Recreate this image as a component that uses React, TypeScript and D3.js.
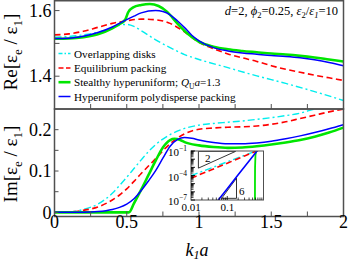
import React from 'react';
import * as d3 from 'd3';

// ---------- data ----------
const reCyanK = [0, 0.1, 0.2, 0.3, 0.4, 0.45, 0.5, 0.55, 0.6, 0.7, 0.8, 0.9, 1.0, 1.2, 1.4, 1.6, 1.8, 2.0];
const reCyan = [1.519, 1.521, 1.526, 1.534, 1.547, 1.555, 1.558, 1.552, 1.539, 1.511, 1.487, 1.466, 1.451, 1.426, 1.401, 1.378, 1.353, 1.326];
const reRedK = [0, 0.1, 0.2, 0.3, 0.4, 0.5, 0.6, 0.7, 0.8, 0.9, 1.0, 1.1, 1.2, 1.3, 1.4, 1.5, 1.6, 1.7, 1.8, 1.9, 2.0];
const reRed = [1.526, 1.529, 1.537, 1.549, 1.561, 1.569, 1.574, 1.572, 1.561, 1.535, 1.503, 1.484, 1.468, 1.456, 1.445, 1.432, 1.421, 1.412, 1.403, 1.395, 1.387];
const reGreenK = [0, 0.1, 0.2, 0.3, 0.4, 0.45, 0.49, 0.51, 0.545, 0.6, 0.66, 0.72, 0.78, 0.85, 0.92, 1.0, 1.1, 1.2, 1.3, 1.4, 1.5, 1.6, 1.7, 1.8, 1.9, 2.0];
const reGreen = [1.514, 1.515, 1.519, 1.528, 1.546, 1.559, 1.573, 1.595, 1.61, 1.617, 1.62, 1.614, 1.596, 1.561, 1.53, 1.505, 1.49, 1.482, 1.477, 1.473, 1.469, 1.466, 1.462, 1.457, 1.451, 1.445];
const reBlueK = [0, 0.1, 0.2, 0.3, 0.4, 0.475, 0.55, 0.6, 0.7, 0.75, 0.8, 0.85, 0.9, 0.95, 1.0, 1.1, 1.2, 1.3, 1.4, 1.5, 1.6, 1.7, 1.8, 1.9, 2.0];
const reBlue = [1.515, 1.516, 1.522, 1.533, 1.55, 1.567, 1.583, 1.593, 1.6, 1.597, 1.587, 1.569, 1.548, 1.525, 1.508, 1.487, 1.477, 1.471, 1.467, 1.463, 1.46, 1.456, 1.45, 1.442, 1.432];

const imCyanK = [0, 0.1, 0.15, 0.2, 0.3, 0.4, 0.45, 0.5, 0.55, 0.6, 0.65, 0.7, 0.8, 0.9, 1.0, 1.1, 1.2, 1.3, 1.4, 1.5, 1.6, 1.7, 1.8, 1.9, 2.0];
const imCyan = [0, 0.001, 0.003, 0.007, 0.02, 0.046, 0.065, 0.085, 0.106, 0.127, 0.147, 0.164, 0.188, 0.203, 0.211, 0.215, 0.218, 0.221, 0.225, 0.229, 0.234, 0.24, 0.25, 0.259, 0.268];
const imRedK = [0, 0.1, 0.2, 0.3, 0.4, 0.45, 0.5, 0.55, 0.6, 0.65, 0.7, 0.75, 0.8, 0.85, 0.9, 0.95, 1.0, 1.1, 1.2, 1.3, 1.4, 1.5, 1.6, 1.7, 1.8, 1.9, 2.0];
const imRed = [0, 0.001, 0.005, 0.013, 0.03, 0.042, 0.057, 0.075, 0.094, 0.112, 0.13, 0.149, 0.166, 0.18, 0.19, 0.197, 0.201, 0.204, 0.206, 0.207, 0.209, 0.213, 0.219, 0.227, 0.235, 0.243, 0.25];
const imGreenK = [0, 0.5, 0.515, 0.55, 0.6, 0.65, 0.7, 0.75, 0.8, 0.83, 0.87, 0.9, 1.0, 1.1, 1.2, 1.3, 1.4, 1.5, 1.6, 1.7, 1.8, 1.9, 2.0];
const imGreen = [0, 0, 0, 0.022, 0.055, 0.09, 0.125, 0.157, 0.175, 0.178, 0.175, 0.17, 0.162, 0.158, 0.156, 0.157, 0.16, 0.164, 0.169, 0.175, 0.183, 0.193, 0.205];
const imBlueK = [0, 0.2, 0.3, 0.4, 0.45, 0.5, 0.55, 0.6, 0.65, 0.7, 0.75, 0.8, 0.85, 0.9, 0.95, 1.0, 1.1, 1.2, 1.3, 1.4, 1.5, 1.6, 1.7, 1.8, 1.9, 2.0];
const imBlue = [0, 0.0005, 0.002, 0.007, 0.012, 0.02, 0.033, 0.053, 0.076, 0.101, 0.131, 0.16, 0.176, 0.181, 0.179, 0.175, 0.169, 0.166, 0.166, 0.168, 0.172, 0.178, 0.185, 0.193, 0.202, 0.212];

// inset (log-log)
const inCyanK = [0.01, 0.03, 0.1, 0.3, 0.7];
const inCyan = [9.5e-5, 6.1e-4, 4.7e-3, 0.03, 0.126];
const inRedK = [0.01, 0.03, 0.1, 0.3, 0.7];
const inRed = [4.6e-5, 3.5e-4, 3.2e-3, 0.025, 0.118];
const inBlueK = [0.05, 0.1, 0.2, 0.4, 0.7];
const inBlue = [5e-8, 2.4e-6, 1.2e-4, 5.9e-3, 0.137];
const inGreenK = [0.58, 0.582, 0.585, 0.6, 0.63];
const inGreen = [1e-9, 1e-5, 1e-3, 0.03, 0.12];
// slope triangles: [x0, x1, y0, slope]
const triangle2 = [0.016, 0.17, 8e-4, 2];
const triangle6 = [0.07, 0.18, 1.6e-7, 6];

const xTicks = [0, 0.5, 1, 1.5, 2];
const reTicks = [1.4, 1.6];
const imTicks = [0, 0.1, 0.2];
const insetYLabels = [-1, -4, -7];
const insetXLabels = ['0.01', '0.1'];

const FONT = "'Liberation Serif', 'Times New Roman', serif";
const C_CYAN = '#00eeee';
const C_RED = '#ff0000';
const C_GREEN = '#00e600';
const C_BLUE = '#0000ff';
const AX = '#505050';

export default function App() {
  const x = d3.scaleLinear().domain([0, 2]).range([54.5, 343.5]);
  const yRe = d3.scaleLinear().domain([1.3, 1.63]).range([109, 0.75]);
  const yIm = d3.scaleLinear().domain([-0.01, 0.25]).range([216.5, 109]);
  const xi = d3.scaleLog().domain([0.01, 1]).range([191, 263.5]);
  const yi = d3.scaleLog().domain([1e-7, 1e-1]).range([200, 151]);

  const mk = (K: number[], V: number[], sx: any, sy: any, curve: any) =>
    d3.line<number>().x((_, i) => sx(K[i])).y((v) => sy(v)).curve(curve)(V) || '';

  const mono = d3.curveMonotoneX;
  const lin = d3.curveLinear;

  const styles = {
    cyan: { stroke: C_CYAN, strokeWidth: 1.4, strokeDasharray: '7,3,2,3', fill: 'none' },
    red: { stroke: C_RED, strokeWidth: 1.6, strokeDasharray: '6,3.5', fill: 'none' },
    green: { stroke: C_GREEN, strokeWidth: 2.6, fill: 'none' },
    blue: { stroke: C_BLUE, strokeWidth: 1.5, fill: 'none' },
  } as const;

  const [x0, x1] = x.range();
  const reTop = yRe.range()[1];
  const mid = yRe.range()[0];
  const imBot = yIm.range()[0];

  const minorX = d3.range(0.25, 2, 0.25);
  const reTickAll = [1.4, 1.5, 1.6];
  const imTickAll = [0, 0.05, 0.1, 0.15, 0.2];

  const insetXMinor: number[] = [];
  [0.01, 0.1].forEach((d) => { for (let m = 2; m <= 9; m++) insetXMinor.push(d * m); });
  const insetYMinor: number[] = [];
  for (let e = -7; e < -1; e++) for (let m = 2; m <= 9; m++) insetYMinor.push(m * Math.pow(10, e));
  const insetYMajor = d3.range(-7, 0).map((e) => Math.pow(10, e));

  const tri = (t: number[], corner: 'tl' | 'br') => {
    const [a, b, y0, s] = t;
    const y1 = y0 * Math.pow(b / a, s);
    const pts = corner === 'tl'
      ? [[a, y0], [a, y1], [b, y1], [a, y0]]
      : [[a, y0], [b, y0], [b, y1], [a, y0]];
    return d3.line<number[]>().x((p) => xi(p[0])).y((p) => yi(p[1]))(pts) || '';
  };

  const legend = [
    { key: 'cyan', label: <tspan>Overlapping disks</tspan> },
    { key: 'red', label: <tspan>Equilibrium packing</tspan> },
    { key: 'green', label: <tspan>Stealthy hyperuniform; <tspan fontStyle="italic">Q</tspan><tspan fontSize="7.5" dy="2.5">U</tspan><tspan fontStyle="italic" dy="-2.5">a</tspan>=1.3</tspan> },
    { key: 'blue', label: <tspan>Hyperuniform polydisperse packing</tspan> },
  ];
  const legendY = [53.5, 68, 82.2, 96.5];

  return (
    <svg width={349} height={261} style={{ position: 'absolute', left: 0, top: 0, background: '#fff' }} fontFamily={FONT}>
      <defs>
        <clipPath id="cRe"><rect x={x0} y={reTop} width={x1 - x0} height={mid - reTop} /></clipPath>
        <clipPath id="cIm"><rect x={x0} y={mid} width={x1 - x0} height={imBot - mid} /></clipPath>
        <clipPath id="cIn"><rect x={xi.range()[0]} y={yi.range()[1]} width={xi.range()[1] - xi.range()[0]} height={yi.range()[0] - yi.range()[1]} /></clipPath>
      </defs>

      {/* Re panel curves */}
      <g clipPath="url(#cRe)">
        <path d={mk(reCyanK, reCyan, x, yRe, mono)} {...styles.cyan} />
        <path d={mk(reRedK, reRed, x, yRe, mono)} {...styles.red} />
        <path d={mk(reGreenK, reGreen, x, yRe, mono)} {...styles.green} />
        <path d={mk(reBlueK, reBlue, x, yRe, mono)} {...styles.blue} />
      </g>
      {/* Im panel curves */}
      <g clipPath="url(#cIm)">
        <path d={mk(imCyanK, imCyan, x, yIm, mono)} {...styles.cyan} />
        <path d={mk(imRedK, imRed, x, yIm, mono)} {...styles.red} />
        <path d={mk(imGreenK, imGreen, x, yIm, mono)} {...styles.green} />
        <path d={mk(imBlueK, imBlue, x, yIm, mono)} {...styles.blue} />
      </g>

      {/* frames */}
      <rect x={x0} y={reTop} width={x1 - x0} height={mid - reTop} fill="none" stroke={AX} strokeWidth={1.5} />
      <rect x={x0} y={mid} width={x1 - x0} height={imBot - mid} fill="none" stroke={AX} strokeWidth={1.5} />

      {/* ticks */}
      {minorX.map((t) => (
        <g key={'mx' + t}>
          <line x1={x(t)} x2={x(t)} y1={mid} y2={mid - 5} stroke={AX} strokeWidth={1} />
          <line x1={x(t)} x2={x(t)} y1={imBot} y2={imBot - 5} stroke={AX} strokeWidth={1} />
        </g>
      ))}
      {reTickAll.map((t) => (
        <line key={'rt' + t} x1={x0} x2={x0 + 5} y1={yRe(t)} y2={yRe(t)} stroke={AX} strokeWidth={1} />
      ))}
      {imTickAll.map((t) => (
        <line key={'it' + t} x1={x0} x2={x0 + 4} y1={yIm(t)} y2={yIm(t)} stroke={AX} strokeWidth={1} />
      ))}

      {/* tick labels */}
      {reTicks.map((t) => (
        <text key={'rl' + t} x={51.5} y={yRe(t)} dy="0.35em" textAnchor="end" fontSize={18}>{t.toFixed(1)}</text>
      ))}
      {imTicks.map((t) => (
        <text key={'il' + t} x={51.5} y={yIm(t)} dy="0.35em" textAnchor="end" fontSize={18}>{t === 0 ? '0' : t.toFixed(1)}</text>
      ))}
      {xTicks.map((t) => (
        <text key={'xl' + t} x={x(t)} y={228} textAnchor="middle" fontSize={18}>{String(t)}</text>
      ))}

      {/* axis titles */}
      <text x={197} y={255.5} textAnchor="middle" fontSize={18} fontStyle="italic">
        k<tspan fontSize={12} dy={3}>1</tspan><tspan dy={-3}>a</tspan>
      </text>
      <text transform="translate(17,52) rotate(-90)" textAnchor="middle" fontSize={19}>
        Re[ε<tspan fontSize={13} dy={5}>e</tspan><tspan dy={-5}> / ε</tspan><tspan fontSize={13} dy={5}>1</tspan><tspan dy={-5}>]</tspan>
      </text>
      <text transform="translate(17,164) rotate(-90)" textAnchor="middle" fontSize={19}>
        Im[ε<tspan fontSize={13} dy={5}>e</tspan><tspan dy={-5}> / ε</tspan><tspan fontSize={13} dy={5}>1</tspan><tspan dy={-5}>]</tspan>
      </text>

      {/* annotation */}
      <text x={338} y={15} textAnchor="end" fontSize={12.5}>
        <tspan fontStyle="italic">d</tspan>=2, <tspan fontStyle="italic">ϕ</tspan><tspan fontSize={8.5} dy={3}>2</tspan><tspan dy={-3}>=0.25, </tspan>
        <tspan fontStyle="italic">ε</tspan><tspan fontSize={8.5} dy={3}>2</tspan><tspan dy={-3}>/</tspan><tspan fontStyle="italic">ε</tspan><tspan fontSize={8.5} fontStyle="italic" dy={3}>1</tspan><tspan dy={-3}>=10</tspan>
      </text>

      {/* legend */}
      {legend.map((l, i) => (
        <g key={l.key}>
          <line x1={58.5} x2={70.5} y1={legendY[i]} y2={legendY[i]} {...(styles as any)[l.key]} strokeDasharray={l.key === 'red' ? '5,2.5' : l.key === 'cyan' ? '4,2,1.5,2' : undefined} />
          <text x={74} y={legendY[i] + 4} fontSize={11.2}>{l.label}</text>
        </g>
      ))}

      {/* inset */}
      <rect x={xi.range()[0]} y={yi.range()[1]} width={xi.range()[1] - xi.range()[0]} height={yi.range()[0] - yi.range()[1]} fill="#fff" />
      <g clipPath="url(#cIn)">
        <path d={tri(triangle2, 'tl')} fill="none" stroke="#000" strokeWidth={0.8} />
        <path d={tri(triangle6, 'br')} fill="none" stroke="#000" strokeWidth={0.8} />
        <path d={mk(inCyanK, inCyan, xi, yi, lin)} {...styles.cyan} />
        <path d={mk(inRedK, inRed, xi, yi, lin)} {...styles.red} />
        <path d={mk(inGreenK, inGreen, xi, yi, lin)} {...styles.green} strokeWidth={1.8} />
        <path d={mk(inBlueK, inBlue, xi, yi, lin)} {...styles.blue} strokeWidth={1.6} />
      </g>
      <rect x={xi.range()[0]} y={yi.range()[1]} width={xi.range()[1] - xi.range()[0]} height={yi.range()[0] - yi.range()[1]} fill="none" stroke={AX} strokeWidth={1} />
      {insetXMinor.map((t) => (
        <line key={'ixm' + t} x1={xi(t)} x2={xi(t)} y1={yi.range()[0]} y2={yi.range()[0] - 2.5} stroke="#000" strokeWidth={0.7} />
      ))}
      {[0.1].map((t) => (
        <line key={'ixM' + t} x1={xi(t)} x2={xi(t)} y1={yi.range()[0]} y2={yi.range()[0] - 4} stroke="#000" strokeWidth={0.8} />
      ))}
      {insetYMinor.map((t) => (
        <line key={'iym' + t} x1={xi.range()[0]} x2={xi.range()[0] + 2.5} y1={yi(t)} y2={yi(t)} stroke="#000" strokeWidth={0.7} />
      ))}
      {insetYMajor.map((t) => (
        <line key={'iyM' + t} x1={xi.range()[0]} x2={xi.range()[0] + 4} y1={yi(t)} y2={yi(t)} stroke="#000" strokeWidth={0.9} />
      ))}
      {insetYLabels.map((e) => (
        <text key={'iyl' + e} x={187} y={yi(Math.pow(10, e)) + 5} textAnchor="end" fontSize={11}>
          10<tspan fontSize={7.5} dy={-5}>{'\u2212' + Math.abs(e)}</tspan>
        </text>
      ))}
      {insetXLabels.map((s) => (
        <text key={'ixl' + s} x={xi(+s)} y={211} textAnchor="middle" fontSize={11}>{s}</text>
      ))}
      <text x={205} y={162} fontSize={11}>2</text>
      <text x={239} y={195} fontSize={11}>6</text>
    </svg>
  );
}
